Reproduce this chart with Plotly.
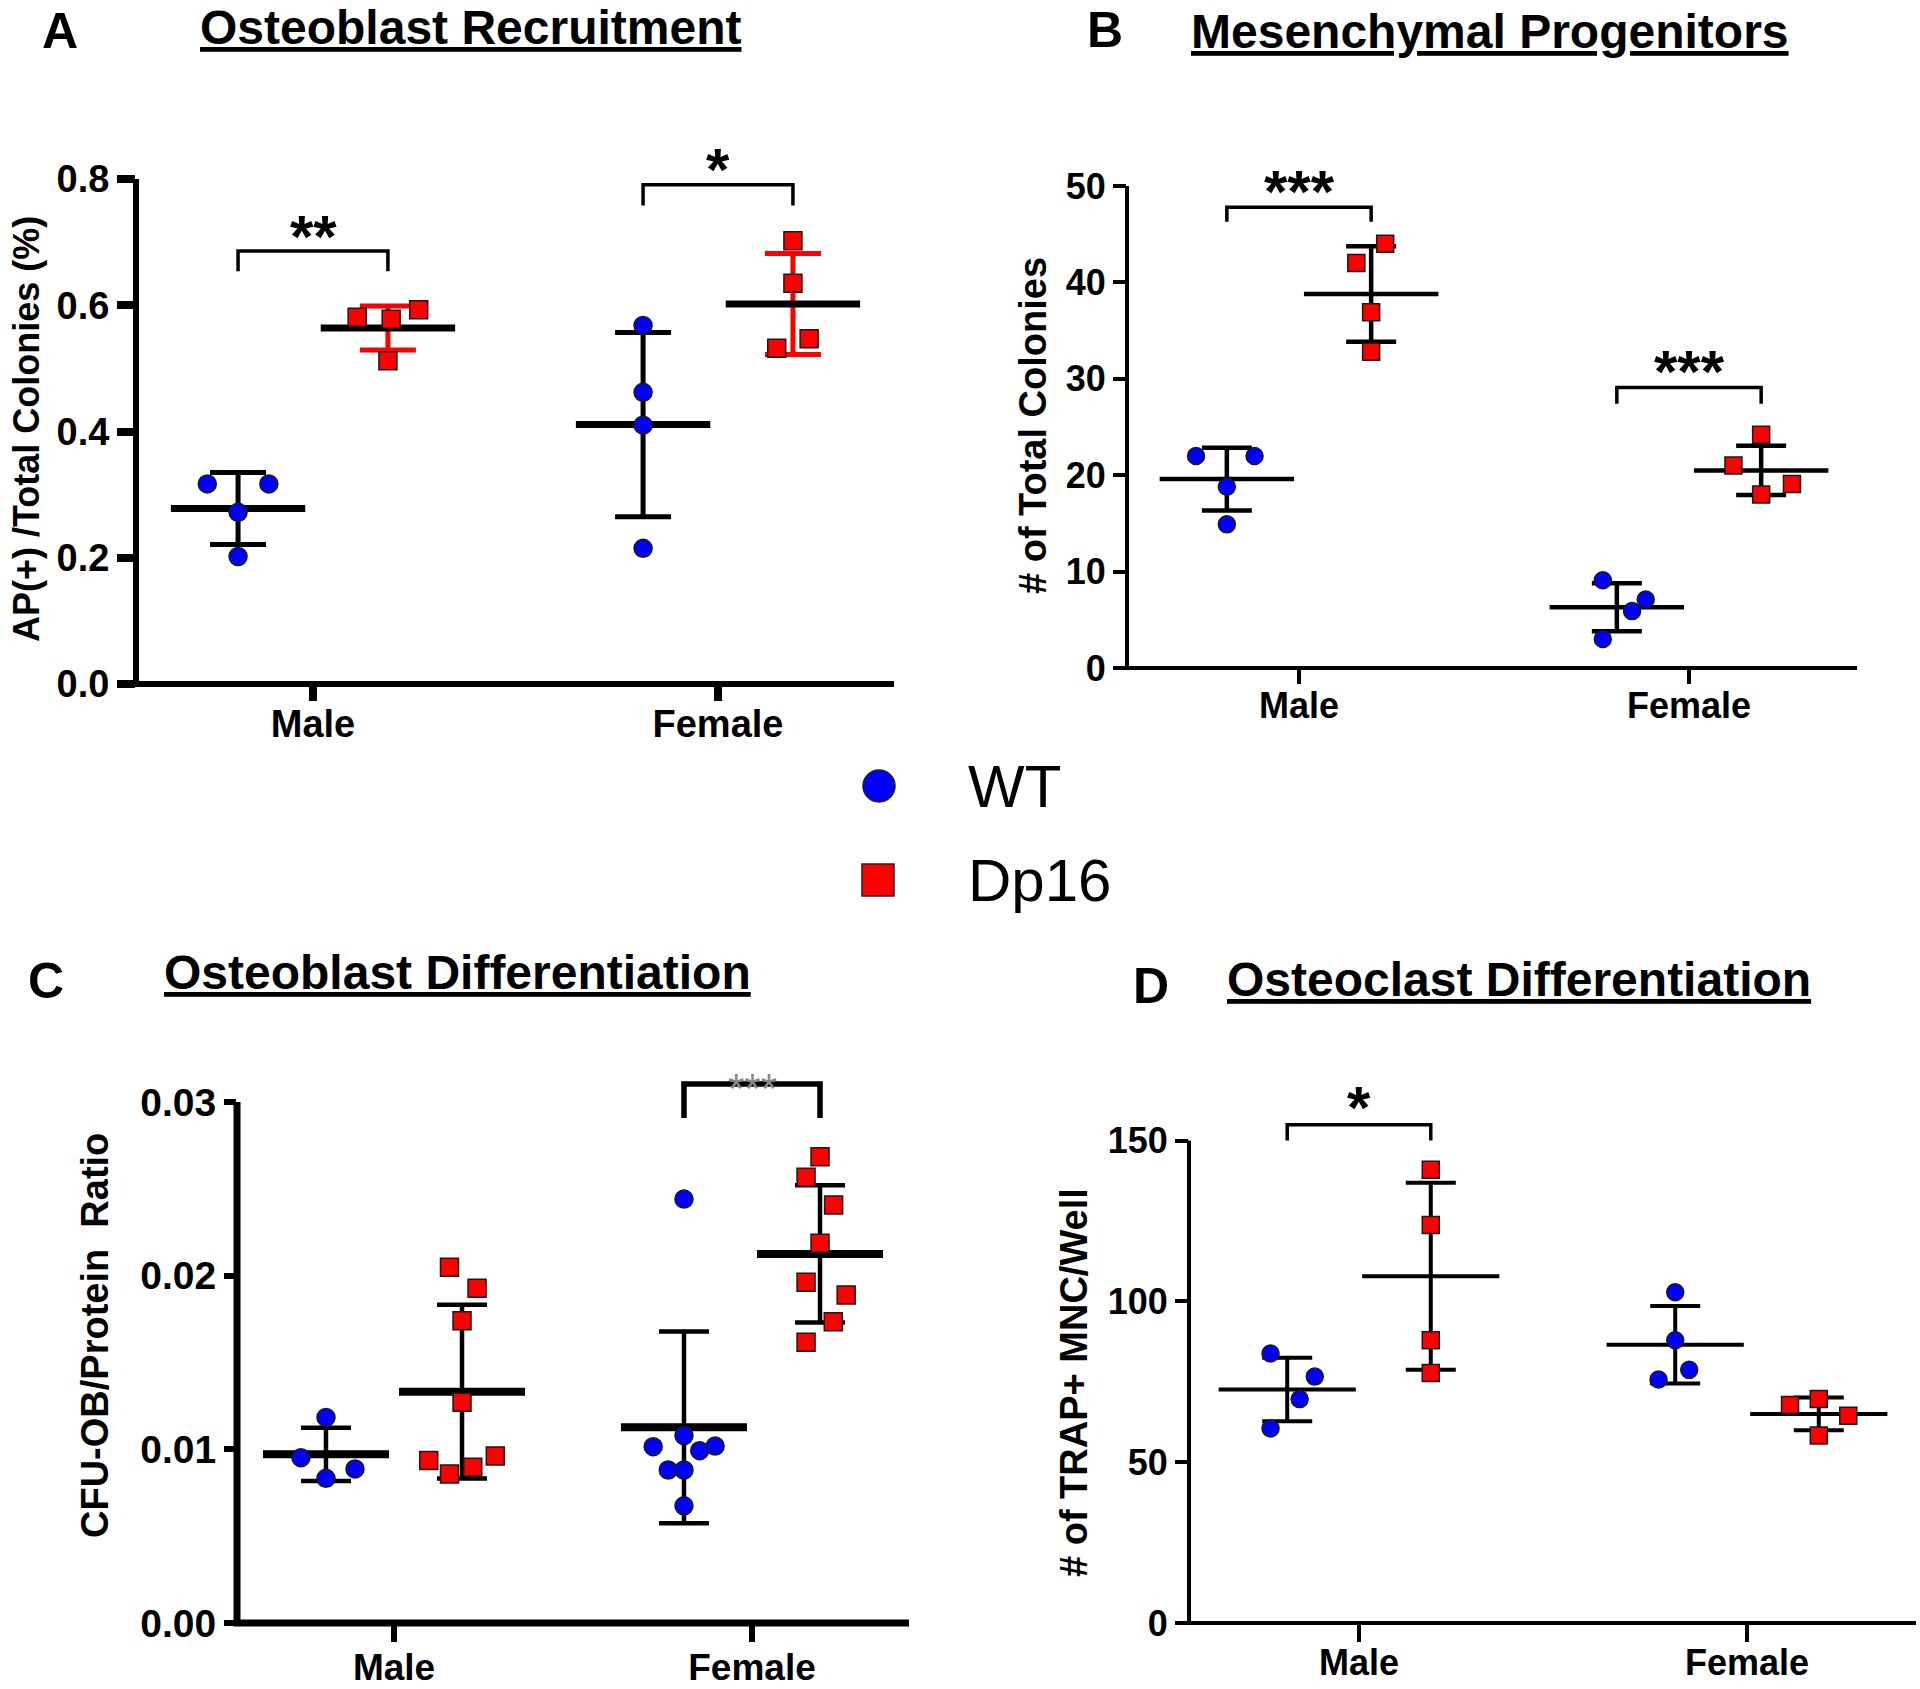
import plotly.graph_objects as go

W, H = 1920, 1689
FONT = "Liberation Sans, Arial, Helvetica, sans-serif"
BLUE = "#0000FF"
RED = "#FF0000"

# ------------------------------------------------------------------ data
categories = ["Male", "Female"]
series = ["WT", "Dp16"]

# Panel A - Osteoblast Recruitment
A_title = "Osteoblast Recruitment"
A_ylabel = "AP(+) /Total Colonies (%)"
A_tickvals = [0.0, 0.2, 0.4, 0.6, 0.8]
A_ticktext = ["0.0", "0.2", "0.4", "0.6", "0.8"]
A_wt_male = [0.317, 0.317, 0.272, 0.202]
A_wt_female = [0.568, 0.462, 0.410, 0.215]
A_dp_male = [0.581, 0.578, 0.593, 0.512]
A_dp_female = [0.702, 0.635, 0.547, 0.532]
A_wt_mean = [0.278, 0.411]
A_wt_sd = [0.057, 0.146]
A_dp_mean = [0.564, 0.602]
A_dp_sd = [0.035, 0.080]
A_sig_text = ["**", "*"]
A_sig_low = [0.654, 0.758]
A_sig_high = [0.686, 0.791]
A_sig_star = [0.731, 0.838]

# Panel B - Mesenchymal Progenitors
B_title = "Mesenchymal Progenitors"
B_ylabel = "# of Total Colonies"
B_tickvals = [0, 10, 20, 30, 40, 50]
B_ticktext = ["0", "10", "20", "30", "40", "50"]
B_wt_male = [22.0, 22.0, 18.8, 14.9]
B_wt_female = [9.1, 7.1, 5.9, 3.0]
B_dp_male = [44.0, 42.0, 36.9, 32.8]
B_dp_female = [24.2, 21.0, 19.1, 18.0]
B_wt_mean = [19.6, 6.3]
B_wt_sd = [3.25, 2.5]
B_dp_mean = [38.8, 20.5]
B_dp_sd = [4.95, 2.55]
B_sig_text = ["***", "***"]
B_sig_low = [46.3, 27.4]
B_sig_high = [47.8, 29.1]
B_sig_star = [50.9, 32.2]

# Panel C - Osteoblast Differentiation
C_title = "Osteoblast Differentiation"
C_ylabel = "CFU-OB/Protein\u00a0\u00a0Ratio"
C_tickvals = [0.0, 0.01, 0.02, 0.03]
C_ticktext = ["0.00", "0.01", "0.02", "0.03"]
C_wt_male = [0.01184, 0.00952, 0.00887, 0.00833]
C_wt_female = [0.02441, 0.01079, 0.01015, 0.00992, 0.01019, 0.00881, 0.00881, 0.00675]
C_dp_male = [0.02048, 0.01927, 0.01741, 0.01271, 0.00935, 0.00962, 0.00858, 0.00897]
C_dp_female = [0.02685, 0.02567, 0.02407, 0.02186, 0.01962, 0.01889, 0.01735, 0.01616]
C_wt_mean = [0.00971, 0.01127]
C_wt_sd = [0.00154, 0.00552]
C_dp_mean = [0.01332, 0.02125]
C_dp_sd = [0.00500, 0.00395]
C_sig_text = [None, "***"]
C_sig_low = [None, 0.02908]
C_sig_high = [None, 0.03104]
C_sig_star = [None, 0.03135]

# Panel D - Osteoclast Differentiation
D_title = "Osteoclast Differentiation"
D_ylabel = "# of TRAP+ MNC/Well"
D_tickvals = [0, 50, 100, 150]
D_ticktext = ["0", "50", "100", "150"]
D_wt_male = [83.8, 76.6, 69.6, 60.5]
D_wt_female = [102.8, 87.9, 78.7, 75.7]
D_dp_male = [140.9, 123.7, 87.9, 77.7]
D_dp_female = [69.6, 67.8, 64.4, 58.3]
D_wt_mean = [72.6, 86.5]
D_wt_sd = [9.9, 12.05]
D_dp_mean = [107.8, 65.0]
D_dp_sd = [29.1, 5.1]
D_sig_text = ["*", None]
D_sig_low = [150.0, None]
D_sig_high = [154.9, None]
D_sig_star = [164.5, None]

# horizontal scatter of the dots inside each group (fraction of category spacing)
A_jit = {"wt": [[-0.076, 0.076, 0.0, 0.0], [0.0, 0.0, 0.0, 0.0]],
         "dp": [[-0.076, 0.008, 0.076, 0.0], [0.0, 0.0, 0.04, -0.04]]}
B_jit = {"wt": [[-0.079, 0.071, 0.0, 0.0], [-0.036, 0.074, 0.039, -0.036]],
         "dp": [[0.036, -0.038, 0.0, 0.0], [0.0, -0.071, 0.079, 0.0]]}
C_jit = {"wt": [[0.0, -0.07, 0.081, 0.0], [0.0, 0.0, -0.086, 0.044, 0.087, -0.044, 0.0, 0.0]],
         "dp": [[-0.035, 0.042, 0.0, 0.0, -0.093, 0.093, -0.035, 0.03],
                [0.0, -0.039, 0.038, 0.0, -0.039, 0.073, 0.037, -0.039]]}
D_jit = {"wt": [[-0.043, 0.071, 0.032, -0.043], [0.0, 0.0, 0.036, -0.043]],
         "dp": [[0.0, 0.0, 0.0, 0.0], [0.0, -0.074, 0.076, 0.0]]}


def px_range(p_lo, p_hi, pa, va, pb, vb):
    s = (pb - pa) / (vb - va)
    return [va + (p_lo - pa) / s, va + (p_hi - pa) / s]


panels = [
    dict(n=1, letter="A", title=A_title, ylabel=A_ylabel, ylabel_w="bold", ylabel_size=36,
         tickvals=A_tickvals, ticktext=A_ticktext,
         wt=[A_wt_male, A_wt_female], dp=[A_dp_male, A_dp_female],
         wt_mean=A_wt_mean, wt_sd=A_wt_sd, dp_mean=A_dp_mean, dp_sd=A_dp_sd,
         sig=(A_sig_text, A_sig_low, A_sig_high, A_sig_star), jit=A_jit,
         dp_err_color=RED,
         x_px=(136, 894), cat_px=(313, 718), y_px=(684, 140), y_ref=((684, 0.0), (179, 0.8)),
         off=0.185, axis_lw=6, tick_w=8, tick_len=18, xtick_len=16, xstand=-10, mean_w=96, mean_lw=7,
         cap_w=56, sd_lw=5, br_lw=3.5, star_size=60, star_color="black", star_w="bold", msize=18,
         tickfont=38, xtickfont=38,
         title_xy=(470, 27), letter_xy=(60, 31), ylabel_xy=(26, 429), xext=16),
    dict(n=2, letter="B", title=B_title, ylabel=B_ylabel, ylabel_w="bold", ylabel_size=38,
         tickvals=B_tickvals, ticktext=B_ticktext,
         wt=[B_wt_male, B_wt_female], dp=[B_dp_male, B_dp_female],
         wt_mean=B_wt_mean, wt_sd=B_wt_sd, dp_mean=B_dp_mean, dp_sd=B_dp_sd,
         sig=(B_sig_text, B_sig_low, B_sig_high, B_sig_star), jit=B_jit,
         dp_err_color="black",
         x_px=(1127, 1857), cat_px=(1299, 1689), y_px=(668, 150), y_ref=((668, 0.0), (186, 50.0)),
         off=0.185, axis_lw=4, tick_w=4, tick_len=13, xtick_len=15, xstand=-9, mean_w=96, mean_lw=4.5,
         cap_w=50, sd_lw=4.5, br_lw=3.5, star_size=60, star_color="black", star_w="bold", msize=17,
         tickfont=36, xtickfont=36,
         title_xy=(1490, 31), letter_xy=(1105, 30), ylabel_xy=(1033, 426), xext=0),
    dict(n=3, letter="C", title=C_title, ylabel=C_ylabel, ylabel_w="bold", ylabel_size=38,
         tickvals=C_tickvals, ticktext=C_ticktext,
         wt=[C_wt_male, C_wt_female], dp=[C_dp_male, C_dp_female],
         wt_mean=C_wt_mean, wt_sd=C_wt_sd, dp_mean=C_dp_mean, dp_sd=C_dp_sd,
         sig=(C_sig_text, C_sig_low, C_sig_high, C_sig_star), jit=C_jit,
         dp_err_color="black",
         x_px=(237, 909), cat_px=(394, 752), y_px=(1623, 1062), y_ref=((1623, 0.0), (1102, 0.03)),
         off=0.19, axis_lw=7, tick_w=6, tick_len=12, xtick_len=18, xstand=-6, mean_w=90, mean_lw=8,
         cap_w=50, sd_lw=4.5, br_lw=5.5, star_size=42, star_color="#8a8a8a", star_w="normal", msize=18,
         tickfont=39, xtickfont=37,
         title_xy=(457, 972), letter_xy=(46, 981), ylabel_xy=(95, 1336), xext=0),
    dict(n=4, letter="D", title=D_title, ylabel=D_ylabel, ylabel_w="bold", ylabel_size=38,
         tickvals=D_tickvals, ticktext=D_ticktext,
         wt=[D_wt_male, D_wt_female], dp=[D_dp_male, D_dp_female],
         wt_mean=D_wt_mean, wt_sd=D_wt_sd, dp_mean=D_dp_mean, dp_sd=D_dp_sd,
         sig=(D_sig_text, D_sig_low, D_sig_high, D_sig_star), jit=D_jit,
         dp_err_color="black",
         x_px=(1189, 1916), cat_px=(1359, 1747), y_px=(1623, 1080), y_ref=((1623, 0.0), (1140.5, 150.0)),
         off=0.185, axis_lw=4, tick_w=4, tick_len=13, xtick_len=18, xstand=-10, mean_w=98, mean_lw=4,
         cap_w=50, sd_lw=4, br_lw=3.5, star_size=60, star_color="black", star_w="bold", msize=17,
         tickfont=36, xtickfont=36,
         title_xy=(1519, 979), letter_xy=(1151, 986), ylabel_xy=(1074, 1383), xext=0),
]

fig = go.Figure()
shapes = []
annotations = []
layout = {}


def pxx(x):
    return x / W


def pxy(y):
    return 1 - y / H


for p in panels:
    n = p["n"]
    xs = "x" if n == 1 else f"x{n}"
    ys = "y" if n == 1 else f"y{n}"
    xa = "xaxis" if n == 1 else f"xaxis{n}"
    ya = "yaxis" if n == 1 else f"yaxis{n}"

    xr = px_range(p["x_px"][0], p["x_px"][1], p["cat_px"][0], 0, p["cat_px"][1], 1)
    (pa, va), (pb, vb) = p["y_ref"]
    yr = px_range(H - p["y_px"][0], H - p["y_px"][1], H - pa, va, H - pb, vb)

    xaxis = dict(domain=[pxx(p["x_px"][0]), pxx(p["x_px"][1])], range=xr, anchor=ys,
                 automargin=False, showgrid=False, zeroline=False, showline=False,
                 tickmode="array", tickvals=[0, 1], ticktext=categories,
                 ticks="outside", ticklen=p["xtick_len"], tickwidth=p["tick_w"], tickcolor="black",
                 tickfont=dict(family=FONT, size=p["xtickfont"], color="black", weight="bold"),
                 fixedrange=True)
    try:
        go.layout.XAxis(ticklabelstandoff=p["xstand"])
        xaxis["ticklabelstandoff"] = p["xstand"]
    except Exception:
        pass
    layout[xa] = xaxis
    layout[ya] = dict(domain=[pxy(p["y_px"][0]), pxy(p["y_px"][1])], range=yr, anchor=xs,
                      automargin=False, showgrid=False, zeroline=False, showline=False,
                      tickmode="array", tickvals=p["tickvals"], ticktext=p["ticktext"],
                      ticks="outside", ticklen=p["tick_len"], tickwidth=p["tick_w"], tickcolor="black",
                      tickfont=dict(family=FONT, size=p["tickfont"], color="black", weight="bold"),
                      fixedrange=True)

    # axis lines (y axis stops at the top tick as in the original)
    shapes.append(dict(type="line", xref=f"{xs} domain", yref=ys, x0=0, x1=0,
                       y0=p["tickvals"][0], y1=p["tickvals"][-1],
                       line=dict(color="black", width=p["axis_lw"]), layer="above"))
    dom_w = p["x_px"][1] - p["x_px"][0]
    shapes.append(dict(type="line", xref=f"{xs} domain", yref=f"{ys} domain",
                       x0=-(p["xext"] + p["axis_lw"] / 2) / dom_w, x1=1, y0=0, y1=0,
                       line=dict(color="black", width=p["axis_lw"]), layer="above"))

    off = p["off"]
    group_defs = [
        ("wt", -off, p["wt"], p["wt_mean"], p["wt_sd"], BLUE, "circle", "black"),
        ("dp", +off, p["dp"], p["dp_mean"], p["dp_sd"], RED, "square", p["dp_err_color"]),
    ]
    # means and SD
    for key, o, vals, means, sds, col, sym, ecol in group_defs:
        fig.add_trace(go.Scatter(
            x=[i + o for i in range(len(categories))], y=means, xaxis=xs, yaxis=ys,
            mode="markers", showlegend=False, hoverinfo="skip",
            marker=dict(symbol="line-ew", size=p["mean_w"], color="black",
                        line=dict(color="black", width=p["mean_lw"])),
            error_y=dict(type="data", array=sds, visible=True, color=ecol,
                         thickness=p["sd_lw"], width=p["cap_w"] / 2),
        ))
    # individual points
    for key, o, vals, means, sds, col, sym, ecol in group_defs:
        for ci, v in enumerate(vals):
            jit = p["jit"][key][ci]
            fig.add_trace(go.Scatter(
                x=[ci + o + j for j in jit], y=v, xaxis=xs, yaxis=ys,
                mode="markers", showlegend=False, hoverinfo="skip",
                name=("WT" if key == "wt" else "Dp16"),
                marker=dict(symbol=sym, size=p["msize"], color=col,
                            line=dict(color="#1a1a1a", width=1.5)),
            ))
    # significance brackets
    texts, lows, highs, stars = p["sig"]
    for ci, t in enumerate(texts):
        if t is None:
            continue
        x0 = ci - off
        x1 = ci + off
        fig.add_trace(go.Scatter(
            x=[x0, x0, x1, x1], y=[lows[ci], highs[ci], highs[ci], lows[ci]],
            xaxis=xs, yaxis=ys, mode="lines", showlegend=False, hoverinfo="skip",
            line=dict(color="black", width=p["br_lw"]),
        ))
        annotations.append(dict(x=ci, y=stars[ci], xref=xs, yref=ys, text=t, showarrow=False,
                                xanchor="center", yanchor="middle",
                                yshift=-0.235 * p["star_size"],
                                font=dict(family=FONT, size=p["star_size"], color=p["star_color"],
                                          weight=p["star_w"])))

    # titles / labels
    tx, ty = p["title_xy"]
    annotations.append(dict(x=pxx(tx), y=pxy(ty), xref="paper", yref="paper",
                            text=f"<u>{p['title']}</u>", showarrow=False,
                            xanchor="center", yanchor="middle",
                            font=dict(family=FONT, size=48, color="black", weight="bold")))
    lx, ly = p["letter_xy"]
    annotations.append(dict(x=pxx(lx), y=pxy(ly), xref="paper", yref="paper",
                            text=p["letter"], showarrow=False, xanchor="center", yanchor="middle",
                            font=dict(family=FONT, size=50, color="black", weight="bold")))
    yx, yy = p["ylabel_xy"]
    annotations.append(dict(x=pxx(yx), y=pxy(yy), xref="paper", yref="paper",
                            text=p["ylabel"], showarrow=False, textangle=-90,
                            xanchor="center", yanchor="middle",
                            font=dict(family=FONT, size=p["ylabel_size"], color="black",
                                      weight=p["ylabel_w"])))

# shared legend
leg = [("WT", BLUE, "circle", 879, 786, 966), ("Dp16", RED, "rect", 878, 880, 966)]
for name, col, shp, cx, cy, tx in leg:
    r = 16
    shapes.append(dict(type=shp, xref="paper", yref="paper",
                       x0=pxx(cx - r), x1=pxx(cx + r), y0=pxy(cy + r), y1=pxy(cy - r),
                       fillcolor=col, line=dict(color="#222222", width=1.5)))
    annotations.append(dict(x=pxx(tx), y=pxy(cy), xref="paper", yref="paper", text=name,
                            showarrow=False, xanchor="left", yanchor="middle",
                            font=dict(family=FONT, size=60, color="black")))

fig.update_layout(
    width=W, height=H, margin=dict(l=0, r=0, t=0, b=0, autoexpand=False),
    paper_bgcolor="white", plot_bgcolor="white",
    showlegend=False, shapes=shapes, annotations=annotations,
    **layout,
)

fig.write_html("out.html", config={"displayModeBar": False},
               post_script="document.body.style.margin='0';document.body.style.overflow='hidden';")
